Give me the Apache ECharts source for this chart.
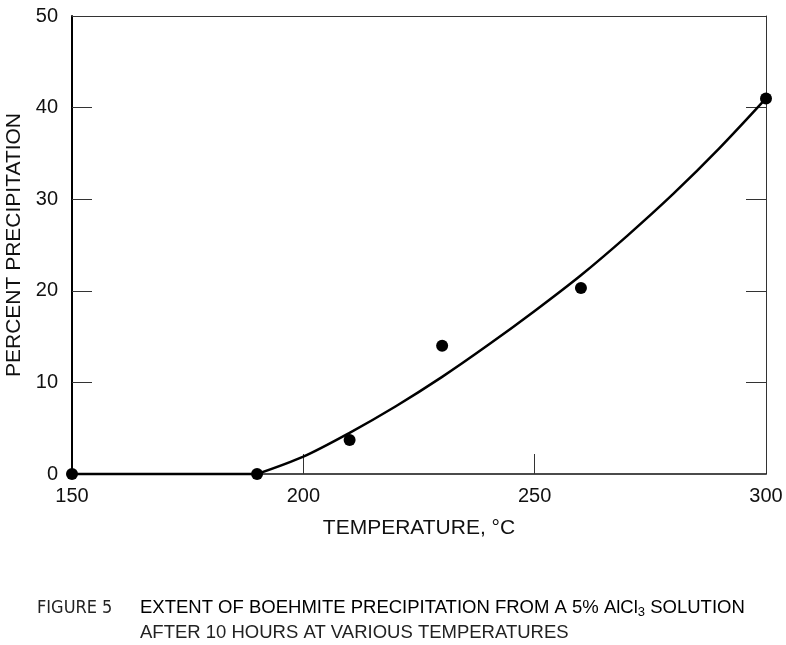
<!DOCTYPE html>
<html><head><meta charset="utf-8">
<script src="https://cdn.jsdelivr.net/npm/echarts@6/dist/echarts.min.js"></script>
<style>html,body{margin:0;padding:0;background:#fff}#c{width:786px;height:645px}</style>
</head><body><div id="c"></div>
<script>
// Measured points
var pointTemps = [150, 190, 210, 230, 260, 300];
var pointValues = [0, 0, 3.7, 14.0, 20.3, 41.0];
// Fitted curve
var curveTemps = [150, 190, 200, 210, 220, 230, 240, 250, 260, 270, 280, 290, 300];
var curveValues = [0, 0, 1.9, 4.5, 7.4, 10.6, 14.1, 17.8, 21.7, 26.0, 30.6, 35.6, 41.0];
var xTicks = [150, 200, 250, 300];
var yTicks = [0, 10, 20, 30, 40, 50];
var xInnerTicks = [200, 250];
var yInnerTicks = [10, 20, 30, 40];

var font = '"Liberation Sans", Arial, Helvetica, sans-serif';
var narrow = '"Liberation Sans Narrow", "DejaVu Sans Condensed", "Liberation Sans", sans-serif';
var chart = echarts.init(document.getElementById('c'), null, {renderer: 'canvas'});
var pts = pointTemps.map(function (t, i) { return [t, pointValues[i]]; });
var curveFlat = [], curveRise = [];
curveTemps.forEach(function (t, i) {
  if (t <= 190) curveFlat.push([t, curveValues[i]]);
  if (t >= 190) curveRise.push([t, curveValues[i]]);
});
chart.setOption({
  animation: false,
  backgroundColor: '#fff',
  grid: {left: 72, right: 20, top: 16, bottom: 171, containLabel: false, outerBoundsMode: 'none'},
  xAxis: [{
    type: 'value', min: 150, max: 300, interval: 50,
    name: 'TEMPERATURE, °C', nameLocation: 'middle', nameGap: 44,
    nameTextStyle: {fontFamily: font, fontSize: 21, color: '#111'},
    axisLine: {show: true, onZero: false, lineStyle: {color: '#111', width: 1.5}},
    axisTick: {show: true, inside: true, length: 20, customValues: xInnerTicks, lineStyle: {color: '#333', width: 1}},
    axisLabel: {fontFamily: font, fontSize: 20, color: '#111', margin: 12, customValues: xTicks},
    splitLine: {show: false}
  }, {
    type: 'value', min: 150, max: 300, interval: 50, position: 'top',
    axisLine: {show: true, onZero: false, lineStyle: {color: '#333', width: 1}},
    axisTick: {show: false}, axisLabel: {show: false}, splitLine: {show: false}
  }],
  yAxis: [{
    type: 'value', min: 0, max: 50, interval: 10,
    name: 'PERCENT PRECIPITATION', nameLocation: 'middle', nameGap: 47, nameRotate: 90,
    nameTextStyle: {fontFamily: font, fontSize: 21, color: '#111'},
    axisLine: {show: true, onZero: false, lineStyle: {color: '#000', width: 2}},
    axisTick: {show: true, inside: true, length: 20, customValues: yInnerTicks, lineStyle: {color: '#333', width: 1}},
    axisLabel: {fontFamily: font, fontSize: 20, color: '#111', margin: 14, customValues: yTicks},
    splitLine: {show: false}
  }, {
    type: 'value', min: 0, max: 50, interval: 10, position: 'right',
    axisLine: {show: true, onZero: false, lineStyle: {color: '#333', width: 1}},
    axisTick: {show: true, inside: true, length: 20, customValues: yInnerTicks, lineStyle: {color: '#333', width: 1}},
    axisLabel: {show: false}, splitLine: {show: false}
  }],
  series: [{
    type: 'line', data: curveFlat, showSymbol: false, symbol: 'none',
    lineStyle: {color: '#000', width: 2.5}, clip: false
  }, {
    type: 'line', data: curveRise, smooth: 0.3, showSymbol: false, symbol: 'none',
    lineStyle: {color: '#000', width: 2.5}, clip: false
  }, {
    type: 'scatter', data: pts, symbol: 'circle', symbolSize: 12,
    itemStyle: {color: '#000', opacity: 1}, clip: false, z: 5
  }],
  graphic: [{
    type: 'text', left: 37, top: 599,
    style: {text: 'FIGURE 5', font: '18px ' + narrow, fill: '#222'}
  }, {
    type: 'text', left: 140, top: 597,
    style: {
      text: '{a|EXTENT OF BOEHMITE PRECIPITATION FROM A 5% AlCl}{s|3}{a| SOLUTION}',
      rich: {
        a: {fontFamily: font, fontSize: 18.5, color: '#222', lineHeight: 21},
        s: {fontFamily: font, fontSize: 13, color: '#222', padding: [9, 0, 0, 0], lineHeight: 21}
      }
    }
  }, {
    type: 'text', left: 140, top: 623,
    style: {text: 'AFTER 10 HOURS AT VARIOUS TEMPERATURES', font: '18.5px ' + font, fill: '#222'}
  }]
});
</script></body></html>
